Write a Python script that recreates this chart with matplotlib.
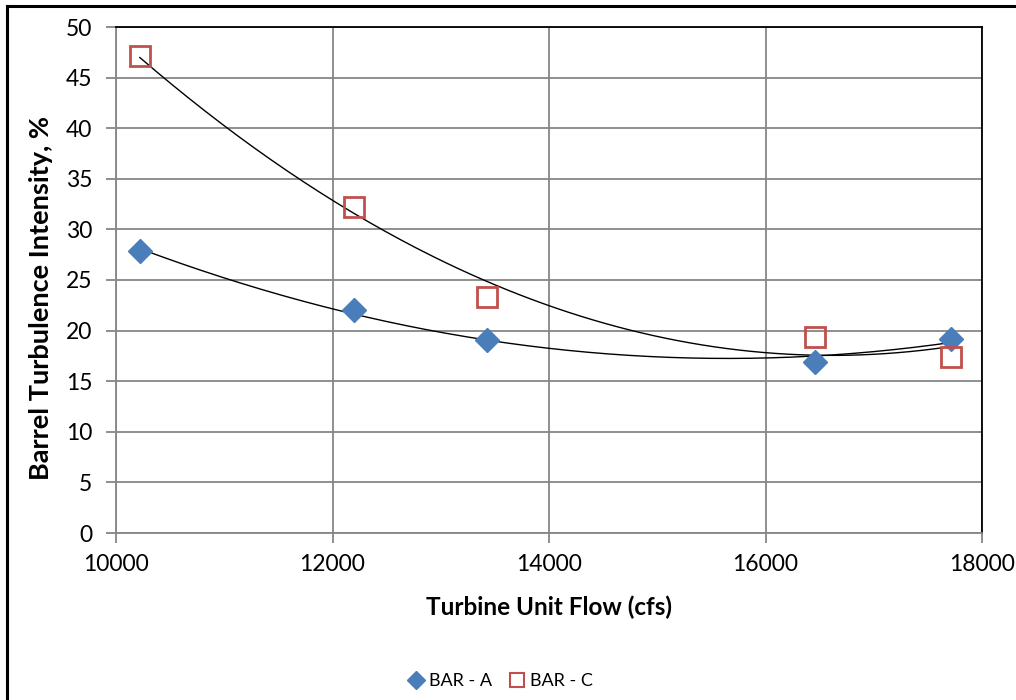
import numpy as np
import matplotlib
matplotlib.use("Agg")
import matplotlib.pyplot as plt
from matplotlib.lines import Line2D

plt.rcParams['font.family'] = ['Lato', 'DejaVu Sans']

# Measured turbulence intensity at the two barrel locations
flow_cfs = [10220, 12200, 13430, 16455, 17715]
bar_a = [27.9, 22.0, 19.1, 16.9, 19.2]
bar_c = [47.1, 32.2, 23.3, 19.4, 17.4]

series_names = ["BAR - A", "BAR - C"]
x_ticks = [10000, 12000, 14000, 16000, 18000]
y_ticks = [0, 5, 10, 15, 20, 25, 30, 35, 40, 45, 50]

W, H = 1016, 700
fig = plt.figure(figsize=(W / 100, H / 100), dpi=100)

# outer chart frame (left and top edges visible)
fig.add_artist(Line2D([7 / W, 7 / W], [0, 1 - 6 / H], transform=fig.transFigure,
                      color='black', lw=2.2))
fig.add_artist(Line2D([7 / W, 1], [1 - 6 / H, 1 - 6 / H], transform=fig.transFigure,
                      color='black', lw=2.2))

left, right, top, bottom = 116, 982, 27, 533
ax = fig.add_axes([left / W, 1 - bottom / H, (right - left) / W, (bottom - top) / H])

ax.set_xlim(10000, 18000)
ax.set_ylim(0, 50)
ax.set_xticks(x_ticks)
ax.set_yticks(y_ticks)
ax.grid(True, color='#868686', lw=1.3)
ax.set_axisbelow(True)

for side in ['left', 'bottom']:
    ax.spines[side].set_color('#868686')
    ax.spines[side].set_linewidth(1.3)
for side in ['top', 'right']:
    ax.spines[side].set_color('black')
    ax.spines[side].set_linewidth(1.3)

ax.tick_params(axis='both', direction='out', length=7, width=1.3, color='#868686',
               labelsize=16.5, labelcolor='black')
ax.tick_params(axis='x', pad=8)
ax.tick_params(axis='y', pad=10)

# second-order polynomial trendlines
xs = np.linspace(min(flow_cfs), max(flow_cfs), 200)
for vals in (bar_a, bar_c):
    coef = np.polyfit(flow_cfs, vals, 2)
    ax.plot(xs, np.polyval(coef, xs), color='black', lw=1.0, zorder=3)

ax.plot(flow_cfs, bar_a, linestyle='none', marker='D', markersize=12,
        markerfacecolor='#4a7ebb', markeredgecolor='#4a7ebb', zorder=4,
        label=series_names[0])
ax.plot(flow_cfs, bar_c, linestyle='none', marker='s', markersize=14,
        markerfacecolor='none', markeredgecolor='#c0504d', markeredgewidth=2,
        zorder=4, label=series_names[1])

ax.set_xlabel("Turbine Unit Flow (cfs)", fontsize=17.5, fontweight='bold')
ax.xaxis.set_label_coords(0.5, -(607 - bottom) / (bottom - top), transform=ax.transAxes)
ax.xaxis.label.set_va('center')
ax.set_ylabel("Barrel Turbulence Intensity, %", fontsize=19.5, fontweight='bold')
ax.yaxis.set_label_coords(-(left - 41) / (right - left), (533 - 298) / (bottom - top),
                          transform=ax.transAxes)
ax.yaxis.label.set_va('center')

handles = [
    Line2D([], [], linestyle='none', marker='D', markersize=9,
           markerfacecolor='#4a7ebb', markeredgecolor='#4a7ebb'),
    Line2D([], [], linestyle='none', marker='s', markersize=9.5,
           markerfacecolor='none', markeredgecolor='#c0504d', markeredgewidth=1.5),
]
fig.legend(handles, series_names, loc='center', bbox_to_anchor=(499 / W, 1 - 681 / H),
           ncol=2, frameon=False, fontsize=13, handletextpad=0.1, columnspacing=0.8,
           handlelength=1.2)

fig.savefig("out.png", dpi=100, facecolor='white')
